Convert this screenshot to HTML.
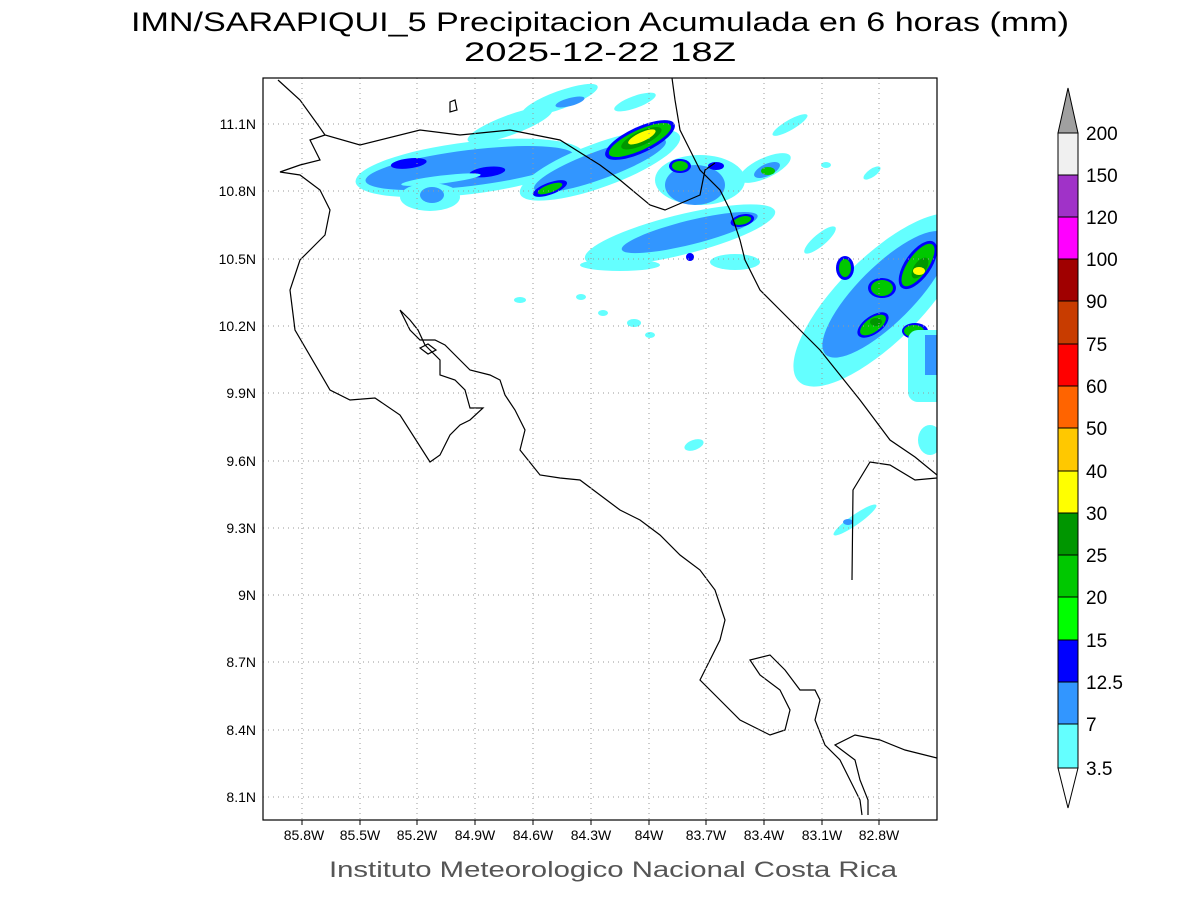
<!DOCTYPE html>
<html><head><meta charset="utf-8"><style>
html,body{margin:0;padding:0;background:#fff;}
body{width:1200px;height:900px;overflow:hidden;}
svg{display:block;font-family:"Liberation Sans",sans-serif;}
</style></head><body>
<svg width="1200" height="900" viewBox="0 0 1200 900">
<text x="600" y="31" text-anchor="middle" font-size="27" fill="#000" textLength="938" lengthAdjust="spacingAndGlyphs">IMN/SARAPIQUI_5 Precipitacion Acumulada en 6 horas (mm)</text>
<text x="600" y="61" text-anchor="middle" font-size="27" fill="#000" textLength="272" lengthAdjust="spacingAndGlyphs">2025-12-22 18Z</text>
<defs><clipPath id="c"><rect x="263" y="78" width="674" height="742"/></clipPath></defs>
<g clip-path="url(#c)">
<!-- band 1 -->
<ellipse cx="560" cy="100" rx="40" ry="9" fill="#64ffff" transform="rotate(-20 560 100)"/>
<ellipse cx="570" cy="102" rx="15" ry="4" fill="#3296ff" transform="rotate(-15 570 102)"/>
<ellipse cx="510" cy="125" rx="45" ry="10" fill="#64ffff" transform="rotate(-20 510 125)"/>
<ellipse cx="635" cy="102" rx="22" ry="6" fill="#64ffff" transform="rotate(-20 635 102)"/>
<g transform="rotate(-7 470 170)">
<ellipse cx="470" cy="168" rx="115" ry="26" fill="#64ffff"/>
<ellipse cx="470" cy="168" rx="105" ry="18" fill="#3296ff"/>
<ellipse cx="410" cy="156" rx="18" ry="5" fill="#0000ff"/>
<ellipse cx="487" cy="174" rx="18" ry="5" fill="#0000ff"/>
<ellipse cx="440" cy="176" rx="40" ry="4" fill="#64ffff"/>
</g>
<ellipse cx="430" cy="197" rx="30" ry="14" fill="#64ffff"/>
<ellipse cx="432" cy="195" rx="12" ry="8" fill="#3296ff"/>
<g transform="rotate(-20 600 165)">
<ellipse cx="600" cy="165" rx="85" ry="22" fill="#64ffff"/>
<ellipse cx="600" cy="165" rx="70" ry="14" fill="#3296ff"/>
<ellipse cx="545" cy="170" rx="18" ry="6" fill="#0000ff"/>
<ellipse cx="545" cy="170" rx="13" ry="4" fill="#00c800"/>
</g>
<g transform="rotate(-25 640 140)">
<ellipse cx="640" cy="140" rx="38" ry="13" fill="#0000ff"/>
<ellipse cx="640" cy="140" rx="34" ry="10" fill="#00c800"/>
<ellipse cx="642" cy="139" rx="22" ry="7" fill="#009600"/>
<ellipse cx="643" cy="138" rx="15" ry="4.5" fill="#ffff00"/>
</g>
<ellipse cx="700" cy="180" rx="45" ry="25" fill="#64ffff"/>
<ellipse cx="695" cy="185" rx="30" ry="20" fill="#3296ff"/>
<ellipse cx="680" cy="166" rx="11" ry="7" fill="#0000ff"/>
<ellipse cx="680" cy="166" rx="8" ry="5" fill="#00c800"/>
<ellipse cx="716" cy="166" rx="8" ry="4" fill="#0000ff"/>
<ellipse cx="765" cy="168" rx="28" ry="10" fill="#64ffff" transform="rotate(-25 765 168)"/>
<ellipse cx="767" cy="170" rx="14" ry="6" fill="#3296ff" transform="rotate(-25 767 170)"/>
<ellipse cx="768" cy="171" rx="7" ry="4" fill="#00c800"/>
<ellipse cx="790" cy="125" rx="20" ry="5" fill="#64ffff" transform="rotate(-30 790 125)"/>
<ellipse cx="826" cy="165" rx="5" ry="3" fill="#64ffff"/>
<ellipse cx="872" cy="173" rx="10" ry="4" fill="#64ffff" transform="rotate(-35 872 173)"/>
<!-- band 2 -->
<g transform="rotate(-14 680 235)">
<ellipse cx="680" cy="235" rx="98" ry="20" fill="#64ffff"/>
<ellipse cx="690" cy="235" rx="70" ry="12" fill="#3296ff"/>
<ellipse cx="744" cy="236" rx="12" ry="6" fill="#0000ff"/>
<ellipse cx="744" cy="236" rx="9" ry="4" fill="#00c800"/>
</g>
<ellipse cx="620" cy="265" rx="40" ry="6" fill="#64ffff"/>
<ellipse cx="735" cy="262" rx="25" ry="8" fill="#64ffff"/>
<ellipse cx="690" cy="257" rx="4" ry="4" fill="#0000ff"/>
<ellipse cx="820" cy="240" rx="20" ry="6" fill="#64ffff" transform="rotate(-40 820 240)"/>
<!-- right cluster -->
<g transform="rotate(-45 880 300)">
<ellipse cx="880" cy="300" rx="115" ry="42" fill="#64ffff"/>
<ellipse cx="888" cy="300" rx="85" ry="28" fill="#3296ff"/>
</g>
<ellipse cx="845" cy="268" rx="9" ry="12" fill="#0000ff"/>
<ellipse cx="845" cy="268" rx="6" ry="9" fill="#00c800"/>
<ellipse cx="882" cy="288" rx="14" ry="10" fill="#0000ff"/>
<ellipse cx="882" cy="288" rx="11" ry="8" fill="#00c800"/>
<ellipse cx="918" cy="265" rx="28" ry="13" fill="#0000ff" transform="rotate(-55 918 265)"/>
<ellipse cx="918" cy="265" rx="25" ry="10" fill="#00c800" transform="rotate(-55 918 265)"/>
<ellipse cx="920" cy="268" rx="12" ry="6" fill="#009600" transform="rotate(-55 920 268)"/>
<ellipse cx="919" cy="271" rx="6" ry="4" fill="#ffff00"/>
<ellipse cx="873" cy="325" rx="18" ry="9" fill="#0000ff" transform="rotate(-35 873 325)"/>
<ellipse cx="873" cy="325" rx="15" ry="7" fill="#00c800" transform="rotate(-35 873 325)"/>
<ellipse cx="876" cy="322" rx="6" ry="4" fill="#009600"/>
<ellipse cx="915" cy="331" rx="13" ry="8" fill="#0000ff"/>
<ellipse cx="914" cy="331" rx="10" ry="6" fill="#00c800"/>
<rect x="908" y="330" width="40" height="72" rx="10" fill="#64ffff"/>
<rect x="925" y="335" width="20" height="40" fill="#3296ff"/>
<ellipse cx="930" cy="440" rx="12" ry="15" fill="#64ffff"/>
<ellipse cx="520" cy="300" rx="6" ry="3" fill="#64ffff"/>
<ellipse cx="581" cy="297" rx="5" ry="3" fill="#64ffff"/>
<ellipse cx="603" cy="313" rx="5" ry="3" fill="#64ffff"/>
<ellipse cx="634" cy="323" rx="7" ry="4" fill="#64ffff"/>
<ellipse cx="650" cy="335" rx="5" ry="3" fill="#64ffff"/>
<ellipse cx="694" cy="445" rx="10" ry="5" fill="#64ffff" transform="rotate(-20 694 445)"/>
<ellipse cx="855" cy="520" rx="26" ry="5" fill="#64ffff" transform="rotate(-35 855 520)"/>
<ellipse cx="848" cy="522" rx="5" ry="3" fill="#3296ff"/>
<!-- coastlines -->
<g fill="none" stroke="#000" stroke-width="1.2">
<polyline points="278,80 300,100 318,125 325,135 360,145 420,130 460,135 510,130 560,140 600,165 620,180 650,205 665,210 700,195 705,170 715,163"/>
<polyline points="325,135 310,140 320,160 300,165 280,172 300,175 320,190 330,210 325,235 315,245 300,260 290,290 295,330 330,390 350,400 375,398 400,415 430,462 440,455 450,435 460,425 470,420 483,408 470,408 465,390 455,380 440,375 440,360 425,345 418,330 410,320 400,310 410,330 420,340 435,340 445,345 455,355 470,370 490,375 500,380 505,395 515,410 525,430 520,450 540,475 560,478 580,480 600,495 620,510 640,520 660,535 680,555 700,570 715,590 725,620 720,640 710,660 700,680 720,700 740,720 770,735 785,730 790,710 780,690 760,675 750,660 770,655 785,670 800,690 815,690 820,700 815,720 825,745 840,760 860,800 862,815"/>
<polyline points="868,815 868,800 860,780 855,760 835,745 855,735 880,740 905,750 937,758"/>
<polyline points="852,580 853,490 870,462 890,465 915,480 937,478"/>
<polyline points="672,78 675,100 680,130 690,150 700,170 720,190 730,210 740,240 745,260 760,290 780,310 800,330 820,350 840,375 860,400 875,420 890,440 915,457 937,475"/>
<polygon points="420,348 428,344 436,350 428,354"/>
<polygon points="450,102 455,100 457,110 450,112"/>
</g>
</g>
<!-- grid -->
<g stroke="#999" stroke-width="1" stroke-dasharray="1,4">
<line x1="302" y1="78" x2="302" y2="820"/><line x1="360" y1="78" x2="360" y2="820"/><line x1="417" y1="78" x2="417" y2="820"/><line x1="475" y1="78" x2="475" y2="820"/><line x1="533" y1="78" x2="533" y2="820"/><line x1="591" y1="78" x2="591" y2="820"/><line x1="649" y1="78" x2="649" y2="820"/><line x1="706" y1="78" x2="706" y2="820"/><line x1="764" y1="78" x2="764" y2="820"/><line x1="822" y1="78" x2="822" y2="820"/><line x1="879" y1="78" x2="879" y2="820"/>
<line x1="263" y1="124" x2="937" y2="124"/><line x1="263" y1="191" x2="937" y2="191"/><line x1="263" y1="259" x2="937" y2="259"/><line x1="263" y1="326" x2="937" y2="326"/><line x1="263" y1="393" x2="937" y2="393"/><line x1="263" y1="461" x2="937" y2="461"/><line x1="263" y1="528" x2="937" y2="528"/><line x1="263" y1="595" x2="937" y2="595"/><line x1="263" y1="662" x2="937" y2="662"/><line x1="263" y1="730" x2="937" y2="730"/><line x1="263" y1="797" x2="937" y2="797"/>
</g>
<g stroke="#000" stroke-width="1">
<line x1="302" y1="820" x2="302" y2="825"/><line x1="360" y1="820" x2="360" y2="825"/><line x1="417" y1="820" x2="417" y2="825"/><line x1="475" y1="820" x2="475" y2="825"/><line x1="533" y1="820" x2="533" y2="825"/><line x1="591" y1="820" x2="591" y2="825"/><line x1="649" y1="820" x2="649" y2="825"/><line x1="706" y1="820" x2="706" y2="825"/><line x1="764" y1="820" x2="764" y2="825"/><line x1="822" y1="820" x2="822" y2="825"/><line x1="879" y1="820" x2="879" y2="825"/>
</g>
<rect x="263" y="78" width="674" height="742" fill="none" stroke="#000" stroke-width="1.2"/>
<g font-size="14" fill="#000" text-anchor="end">
<text x="256" y="129">11.1N</text><text x="256" y="196">10.8N</text><text x="256" y="264">10.5N</text><text x="256" y="331">10.2N</text><text x="256" y="398">9.9N</text><text x="256" y="466">9.6N</text><text x="256" y="533">9.3N</text><text x="256" y="600">9N</text><text x="256" y="667">8.7N</text><text x="256" y="735">8.4N</text><text x="256" y="802">8.1N</text>
</g>
<g font-size="14" fill="#000" text-anchor="middle">
<text x="304" y="840">85.8W</text><text x="360" y="840">85.5W</text><text x="417" y="840">85.2W</text><text x="475" y="840">84.9W</text><text x="533" y="840">84.6W</text><text x="591" y="840">84.3W</text><text x="649" y="840">84W</text><text x="706" y="840">83.7W</text><text x="764" y="840">83.4W</text><text x="822" y="840">83.1W</text><text x="879" y="840">82.8W</text>
</g>
<text x="613" y="877" text-anchor="middle" font-size="22" fill="#555" textLength="568" lengthAdjust="spacingAndGlyphs">Instituto Meteorologico Nacional Costa Rica</text>
<!-- colorbar -->
<g stroke="#000" stroke-width="1">
<polygon points="1058,133 1068,88 1078,133" fill="#a0a0a0"/>
<rect x="1058" y="133" width="20" height="42" fill="#f0f0f0"/>
<rect x="1058" y="175" width="20" height="42" fill="#a032c8"/>
<rect x="1058" y="217" width="20" height="42" fill="#ff00ff"/>
<rect x="1058" y="259" width="20" height="42" fill="#a00000"/>
<rect x="1058" y="301" width="20" height="43" fill="#c83c00"/>
<rect x="1058" y="344" width="20" height="42" fill="#ff0000"/>
<rect x="1058" y="386" width="20" height="42" fill="#ff6400"/>
<rect x="1058" y="428" width="20" height="43" fill="#ffc800"/>
<rect x="1058" y="471" width="20" height="42" fill="#ffff00"/>
<rect x="1058" y="513" width="20" height="42" fill="#009600"/>
<rect x="1058" y="555" width="20" height="42" fill="#00c800"/>
<rect x="1058" y="597" width="20" height="43" fill="#00ff00"/>
<rect x="1058" y="640" width="20" height="42" fill="#0000ff"/>
<rect x="1058" y="682" width="20" height="42" fill="#3296ff"/>
<rect x="1058" y="724" width="20" height="44" fill="#64ffff"/>
<polygon points="1058,768 1068,808 1078,768" fill="#fff"/>
</g>
<g font-size="19" fill="#000">
<text x="1086" y="140">200</text><text x="1086" y="182">150</text><text x="1086" y="224">120</text><text x="1086" y="266">100</text><text x="1086" y="308">90</text><text x="1086" y="351">75</text><text x="1086" y="393">60</text><text x="1086" y="435">50</text><text x="1086" y="478">40</text><text x="1086" y="520">30</text><text x="1086" y="562">25</text><text x="1086" y="604">20</text><text x="1086" y="647">15</text><text x="1086" y="689">12.5</text><text x="1086" y="731">7</text><text x="1086" y="775">3.5</text>
</g>
</svg>
</body></html>
